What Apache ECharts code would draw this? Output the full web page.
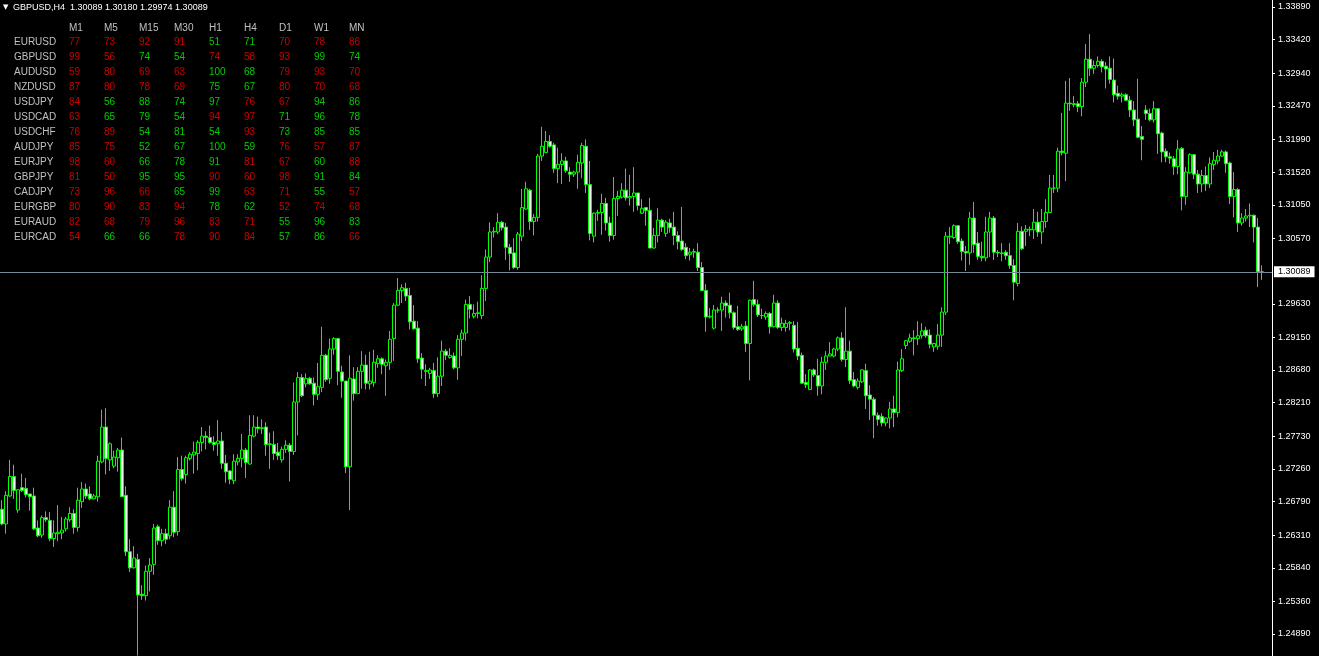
<!DOCTYPE html>
<html><head><meta charset="utf-8">
<script src="https://cdn.jsdelivr.net/npm/echarts@6/dist/echarts.min.js"></script>
<style>html,body{margin:0;padding:0;background:#000;overflow:hidden}#c{width:1319px;height:656px}</style>
</head><body><div id="c"></div>
<script>
const symbolName = 'GBPUSD';
const timeframe = 'H4';

const opens = [
1.2668,1.2647,1.2687,1.2715,1.2667,1.2699,1.2698,1.2690,1.2687,1.2641,
1.2631,1.2656,1.2652,1.2626,1.2633,1.2634,1.2640,1.2653,1.2662,1.2642,
1.2679,1.2697,1.2690,1.2683,1.2686,1.2736,1.2786,1.2739,1.2730,1.2742,
1.2753,1.2688,1.2607,1.2584,1.2596,1.2546,1.2544,1.2579,1.2589,1.2643,
1.2623,1.2633,1.2630,1.2671,1.2636,1.2725,1.2718,1.2741,1.2746,1.2748,
1.2764,1.2773,1.2771,1.2764,1.2762,1.2766,1.2734,1.2723,1.2709,1.2736,
1.2741,1.2753,1.2733,1.2773,1.2786,1.2784,1.2786,1.2761,1.2761,1.2750,
1.2739,1.2754,1.2760,1.2751,1.2822,1.2857,1.2848,1.2856,1.2849,1.2833,
1.2843,1.2889,1.2856,1.2898,1.2913,1.2865,1.2852,1.2729,1.2855,1.2834,
1.2866,1.2875,1.2848,1.2850,1.2877,1.2884,1.2874,1.2879,1.2913,1.2961,
1.2982,1.2985,1.2975,1.2938,1.2928,1.2885,1.2867,1.2863,1.2867,1.2834,
1.2859,1.2895,1.2886,1.2888,1.2871,1.2912,1.2921,1.2962,1.2945,1.2949,
1.2946,1.2985,1.3030,1.3066,1.3066,1.3080,1.3073,1.3044,1.3036,1.3015,
1.3060,1.3099,1.3126,1.3081,1.3087,1.3175,1.3180,1.3196,1.3191,1.3157,
1.3163,1.3168,1.3152,1.3149,1.3152,1.3165,1.3189,1.3134,1.3060,1.3093,
1.3094,1.3107,1.3079,1.3061,1.3114,1.3116,1.3126,1.3115,1.3117,1.3122,
1.3093,1.3101,1.3097,1.3043,1.3061,1.3083,1.3064,1.3079,1.3073,1.3061,
1.3053,1.3044,1.3034,1.3037,1.3037,1.3015,1.2982,1.2944,1.2928,1.2954,
1.2954,1.2964,1.2961,1.2950,1.2930,1.2927,1.2931,1.2906,1.2969,1.2962,
1.2946,1.2944,1.2949,1.2930,1.2964,1.2929,1.2929,1.2935,1.2932,1.2899,
1.2889,1.2850,1.2840,1.2868,1.2860,1.2845,1.2879,1.2888,1.2888,1.2898,
1.2914,1.2883,1.2895,1.2854,1.2843,1.2851,1.2867,1.2832,1.2826,1.2803,
1.2801,1.2792,1.2799,1.2812,1.2807,1.2867,1.2903,1.2909,1.2914,1.2913,
1.2917,1.2925,1.2918,1.2901,1.2902,1.2918,1.2951,1.3059,1.3058,1.3075,
1.3053,1.3038,1.3036,1.3086,1.3050,1.3031,1.3029,1.3066,1.3086,1.3037,
1.3036,1.3037,1.3032,1.3018,1.2992,1.3067,1.3067,1.3069,1.3069,1.3080,
1.3066,1.3081,1.3094,1.3129,1.3129,1.3182,1.3179,1.3251,1.3250,1.3250,
1.3246,1.3281,1.3314,1.3301,1.3305,1.3311,1.3304,1.3301,1.3284,1.3265,
1.3261,1.3263,1.3255,1.3241,1.3228,1.3203,1.3241,1.3236,1.3227,1.3243,
1.3208,1.3182,1.3174,1.3171,1.3160,1.3186,1.3117,1.3151,1.3177,1.3149,
1.3135,1.3147,1.3135,1.3163,1.3168,1.3175,1.3181,1.3165,1.3117,1.3127,
1.3079,1.3086,1.3089,1.3090,1.3073,1.30089
];
const highs = [
1.2681,1.2694,1.2739,1.2732,1.2697,1.2719,1.2713,1.2690,1.2699,1.2652,
1.2659,1.2665,1.2664,1.2652,1.2674,1.2657,1.2657,1.2671,1.2668,1.2699,
1.2707,1.2705,1.2701,1.2690,1.2745,1.2811,1.2813,1.2764,1.2752,1.2756,
1.2771,1.2701,1.2625,1.2615,1.2604,1.2559,1.2587,1.2598,1.2647,1.2646,
1.2640,1.2640,1.2681,1.2694,1.2743,1.2745,1.2745,1.2750,1.2765,1.2767,
1.2786,1.2780,1.2788,1.2773,1.2796,1.2779,1.2746,1.2724,1.2747,1.2747,
1.2776,1.2756,1.2803,1.2803,1.2801,1.2797,1.2793,1.2778,1.2780,1.2763,
1.2758,1.2767,1.2763,1.2850,1.2865,1.2862,1.2863,1.2858,1.2857,1.2878,
1.2930,1.2891,1.2913,1.2915,1.2914,1.2874,1.2852,1.2889,1.2872,1.2872,
1.2895,1.2890,1.2894,1.2897,1.2889,1.2886,1.2883,1.2924,1.2964,1.3000,
1.2991,1.2993,1.2986,1.2961,1.2938,1.2892,1.2876,1.2871,1.2878,1.2886,
1.2910,1.2898,1.2899,1.2893,1.2918,1.2926,1.2969,1.2974,1.2962,1.2966,
1.3004,1.3041,1.3080,1.3073,1.3093,1.3082,1.3079,1.3049,1.3057,1.3066,
1.3128,1.3138,1.3128,1.3092,1.3178,1.3217,1.3211,1.3205,1.3194,1.3187,
1.3179,1.3174,1.3159,1.3154,1.3177,1.3194,1.3199,1.3168,1.3094,1.3098,
1.3121,1.3115,1.3088,1.3145,1.3125,1.3136,1.3157,1.3148,1.3159,1.3122,
1.3113,1.3102,1.3115,1.3072,1.3100,1.3085,1.3083,1.3085,1.3095,1.3067,
1.3102,1.3050,1.3043,1.3042,1.3050,1.3023,1.2991,1.2957,1.2961,1.2958,
1.2973,1.2968,1.2979,1.2952,1.2960,1.2934,1.2938,1.2969,1.2996,1.2969,
1.2956,1.2952,1.2951,1.2976,1.2968,1.2943,1.2940,1.2938,1.2938,1.2937,
1.2893,1.2862,1.2869,1.2870,1.2884,1.2887,1.2895,1.2908,1.2900,1.2916,
1.2922,1.2958,1.2910,1.2865,1.2856,1.2869,1.2877,1.2846,1.2829,1.2807,
1.2806,1.2800,1.2822,1.2831,1.2880,1.2898,1.2911,1.2920,1.2925,1.2938,
1.2935,1.2930,1.2926,1.2907,1.2934,1.2958,1.3066,1.3073,1.3077,1.3076,
1.3057,1.3046,1.3095,1.3109,1.3066,1.3052,1.3088,1.3095,1.3089,1.3040,
1.3050,1.3040,1.3050,1.3027,1.3079,1.3074,1.3076,1.3074,1.3099,1.3095,
1.3099,1.3113,1.3148,1.3148,1.3187,1.3237,1.3283,1.3287,1.3261,1.3254,
1.3287,1.3336,1.3350,1.3312,1.3318,1.3314,1.3310,1.3318,1.3315,1.3276,
1.3266,1.3265,1.3261,1.3254,1.3286,1.3218,1.3248,1.3243,1.3254,1.3244,
1.3210,1.3186,1.3180,1.3175,1.3198,1.3188,1.3159,1.3179,1.3178,1.3155,
1.3155,1.3160,1.3173,1.3181,1.3184,1.3184,1.3183,1.3167,1.3152,1.3129,
1.3093,1.3099,1.3107,1.3091,1.3086,1.30180
];
const lows = [
1.2645,1.2633,1.2686,1.2683,1.2663,1.2693,1.2685,1.2666,1.2638,1.2628,
1.2627,1.2650,1.2622,1.2614,1.2622,1.2625,1.2636,1.2650,1.2633,1.2636,
1.2670,1.2683,1.2681,1.2683,1.2679,1.2734,1.2718,1.2723,1.2727,1.2722,
1.2686,1.2601,1.2578,1.2583,1.2458,1.2538,1.2537,1.2550,1.2574,1.2617,
1.2615,1.2618,1.2625,1.2628,1.2630,1.2709,1.2705,1.2738,1.2719,1.2724,
1.2751,1.2754,1.2762,1.2752,1.2745,1.2726,1.2706,1.2704,1.2704,1.2731,
1.2728,1.2713,1.2732,1.2771,1.2777,1.2776,1.2745,1.2726,1.2739,1.2739,
1.2735,1.2749,1.2708,1.2746,1.2774,1.2829,1.2843,1.2847,1.2817,1.2825,
1.2836,1.2851,1.2848,1.2890,1.2846,1.2828,1.2720,1.2667,1.2824,1.2834,
1.2841,1.2840,1.2840,1.2844,1.2871,1.2862,1.2831,1.2868,1.2881,1.2960,
1.2964,1.2967,1.2926,1.2926,1.2878,1.2855,1.2845,1.2855,1.2828,1.2829,
1.2845,1.2882,1.2884,1.2869,1.2854,1.2888,1.2910,1.2942,1.2942,1.2942,
1.2941,1.2967,1.3023,1.3058,1.3063,1.3068,1.3026,1.3011,1.3013,1.3012,
1.3053,1.3098,1.3069,1.3061,1.3081,1.3168,1.3180,1.3187,1.3151,1.3136,
1.3135,1.3151,1.3138,1.3145,1.3128,1.3143,1.3122,1.3054,1.3051,1.3082,
1.3062,1.3068,1.3052,1.3055,1.3089,1.3114,1.3111,1.3104,1.3095,1.3097,
1.3092,1.3075,1.3043,1.3042,1.3051,1.3066,1.3059,1.3065,1.3047,1.3041,
1.3039,1.3027,1.3025,1.3029,1.3010,1.2982,1.2923,1.2942,1.2926,1.2950,
1.2924,1.2943,1.2942,1.2926,1.2924,1.2924,1.2894,1.2853,1.2959,1.2944,
1.2941,1.2940,1.2920,1.2929,1.2927,1.2924,1.2923,1.2925,1.2893,1.2882,
1.2848,1.2842,1.2839,1.2858,1.2831,1.2833,1.2868,1.2888,1.2886,1.2895,
1.2880,1.2872,1.2848,1.2843,1.2840,1.2849,1.2812,1.2796,1.2770,1.2788,
1.2787,1.2787,1.2784,1.2786,1.2800,1.2865,1.2898,1.2907,1.2889,1.2904,
1.2913,1.2914,1.2899,1.2894,1.2897,1.2901,1.2947,1.3049,1.3056,1.3049,
1.3025,1.3010,1.3019,1.3036,1.3026,1.3024,1.3024,1.3030,1.3026,1.3030,
1.3024,1.3026,1.3013,1.2968,1.2988,1.3040,1.3046,1.3060,1.3056,1.3059,
1.3049,1.3072,1.3093,1.3122,1.3123,1.3176,1.3139,1.3240,1.3245,1.3238,
1.3232,1.3274,1.3290,1.3293,1.3302,1.3295,1.3272,1.3279,1.3252,1.3256,
1.3252,1.3254,1.3231,1.3218,1.3201,1.3169,1.3227,1.3225,1.3223,1.3178,
1.3166,1.3166,1.3164,1.3148,1.3149,1.3097,1.3105,1.3150,1.3142,1.3122,
1.3123,1.3125,1.3129,1.3155,1.3163,1.3174,1.3151,1.3106,1.3087,1.3066,
1.3075,1.3081,1.3073,1.3051,1.2987,1.29974
];
const closes = [
1.2647,1.2688,1.2715,1.2695,1.2696,1.2695,1.2689,1.2686,1.2640,1.2630,
1.2656,1.2653,1.2626,1.2634,1.2635,1.2638,1.2654,1.2662,1.2642,1.2681,
1.2697,1.2687,1.2683,1.2687,1.2737,1.2786,1.2741,1.2762,1.2743,1.2753,
1.2686,1.2607,1.2584,1.2598,1.2545,1.2544,1.2579,1.2588,1.2641,1.2623,
1.2633,1.2625,1.2671,1.2635,1.2725,1.2712,1.2742,1.2747,1.2750,1.2764,
1.2773,1.2771,1.2764,1.2761,1.2766,1.2734,1.2722,1.2711,1.2737,1.2741,
1.2753,1.2735,1.2774,1.2786,1.2784,1.2785,1.2761,1.2762,1.2748,1.2745,
1.2754,1.2760,1.2751,1.2822,1.2857,1.2831,1.2856,1.2848,1.2833,1.2844,
1.2889,1.2854,1.2898,1.2913,1.2866,1.2852,1.2729,1.2856,1.2834,1.2866,
1.2875,1.2849,1.2852,1.2879,1.2884,1.2876,1.2879,1.2912,1.2961,1.2982,
1.2986,1.2974,1.2937,1.2927,1.2884,1.2869,1.2866,1.2868,1.2834,1.2859,
1.2895,1.2889,1.2889,1.2871,1.2912,1.2921,1.2962,1.2955,1.2949,1.2950,
1.2985,1.3030,1.3066,1.3067,1.3080,1.3072,1.3044,1.3035,1.3015,1.3063,
1.3101,1.3128,1.3081,1.3087,1.3175,1.3189,1.3196,1.3189,1.3157,1.3163,
1.3168,1.3154,1.3149,1.3152,1.3166,1.3190,1.3134,1.3064,1.3093,1.3094,
1.3107,1.3079,1.3061,1.3114,1.3117,1.3126,1.3115,1.3117,1.3122,1.3104,
1.3100,1.3097,1.3043,1.3061,1.3083,1.3073,1.3080,1.3072,1.3061,1.3052,
1.3041,1.3032,1.3037,1.3038,1.3015,1.2982,1.2944,1.2945,1.2954,1.2954,
1.2964,1.2960,1.2950,1.2929,1.2926,1.2930,1.2906,1.2968,1.2962,1.2947,
1.2946,1.2949,1.2930,1.2964,1.2929,1.2935,1.2935,1.2936,1.2898,1.2888,
1.2849,1.2847,1.2868,1.2861,1.2845,1.2879,1.2888,1.2891,1.2898,1.2914,
1.2883,1.2895,1.2853,1.2845,1.2852,1.2868,1.2831,1.2826,1.2803,1.2797,
1.2792,1.2799,1.2812,1.2807,1.2868,1.2884,1.2910,1.2914,1.2913,1.2917,
1.2924,1.2917,1.2905,1.2906,1.2918,1.2951,1.3060,1.3060,1.3075,1.3052,
1.3038,1.3036,1.3086,1.3048,1.3031,1.3029,1.3066,1.3086,1.3037,1.3036,
1.3035,1.3032,1.3018,1.2994,1.3067,1.3042,1.3070,1.3070,1.3080,1.3066,
1.3081,1.3094,1.3129,1.3129,1.3182,1.3180,1.3251,1.3250,1.3249,1.3246,
1.3281,1.3314,1.3301,1.3305,1.3311,1.3303,1.3300,1.3285,1.3263,1.3261,
1.3263,1.3255,1.3241,1.3227,1.3202,1.3199,1.3236,1.3227,1.3243,1.3207,
1.3181,1.3174,1.3172,1.3160,1.3185,1.3117,1.3152,1.3177,1.3149,1.3135,
1.3147,1.3135,1.3164,1.3169,1.3175,1.3181,1.3164,1.3117,1.3127,1.3079,
1.3086,1.3089,1.3090,1.3073,1.30089,1.30089
];

const priceTickLabels = ['1.33890','1.33420','1.32940','1.32470','1.31990','1.31520','1.31050','1.30570',
  '1.29630','1.29150','1.28680','1.28210','1.27730','1.27260','1.26790','1.26310','1.25840','1.25360','1.24890'];

const timeframes = ['M1','M5','M15','M30','H1','H4','D1','W1','MN'];
const pairs = ['EURUSD','GBPUSD','AUDUSD','NZDUSD','USDJPY','USDCAD','USDCHF','AUDJPY','EURJPY','GBPJPY','CADJPY','EURGBP','EURAUD','EURCAD'];
const strength = [
  [77,73,92,91,51,71,70,78,86],
  [99,56,74,54,74,58,93,99,74],
  [59,80,69,63,100,68,79,93,70],
  [87,80,78,69,75,67,80,70,68],
  [84,56,88,74,97,76,67,94,86],
  [63,65,79,54,94,97,71,96,78],
  [76,89,54,81,54,93,73,85,85],
  [85,75,52,67,100,59,76,57,87],
  [98,60,66,78,91,81,67,60,88],
  [81,50,95,95,90,60,98,91,84],
  [73,96,66,65,99,63,71,55,57],
  [80,90,83,94,78,62,52,74,68],
  [82,68,79,96,83,71,55,96,83],
  [54,66,66,78,90,84,57,86,66]
];
const signals = [
  'RRRRGGRRR','RRGGRRRGG','RRRRGGRRR','RRRRGGRRR','RGGGGRRGG','RGGGRRGGG','RRGGGRGGG',
  'RRGGGGRRR','RRGGGRRGR','RRGGRRRGG','RRRGGRRGR','RRRRGGRRR','RRRRRRGGG','RGGRRRGGR'
];

const n = opens.length;
const emptySlots = 2;
const yMin = 1.24574, yMax = 1.3399;
const cats = [];
for (let i = 0; i < n + emptySlots; i++) cats.push(String(i));
const candles = opens.map((o, i) => [o, closes[i], lows[i], highs[i]]);
const last = n - 1;
const tickVals = priceTickLabels.map(parseFloat);
const cells = [];
strength.forEach((row, j) => row.forEach((v, i) => cells.push({
  value: [i, j, v],
  label: { color: signals[j][i] === 'G' ? '#00ff00' : '#ff0000' }
})));
const titleText = symbolName + ',' + timeframe + '  ' +
  [opens[last], highs[last], lows[last], closes[last]].map(v => v.toFixed(5)).join(' ');

const FONT = 'Liberation Sans';
const chart = echarts.init(document.getElementById('c'), null, { renderer: 'canvas' });
chart.setOption({
  backgroundColor: '#000',
  animation: false,
  title: {
    left: 3, top: 3, padding: 0,
    text: '{t|▼}{s|' + titleText + '}',
    textStyle: {
      fontSize: 9, color: '#fff', fontFamily: FONT, fontWeight: 'normal',
      rich: {
        t: { fontSize: 7, color: '#fff', fontFamily: 'DejaVu Sans', width: 10, align: 'left' },
        s: { fontSize: 9, color: '#fff', fontFamily: FONT }
      }
    }
  },
  grid: [
    { left: 0, right: 47, top: 0, bottom: 0, outerBoundsMode: 'none', containLabel: false },
    { left: 69, top: 42, width: 280, height: 195, outerBoundsMode: 'none', containLabel: false }
  ],
  xAxis: [
    { type: 'category', gridIndex: 0, data: cats, show: false, boundaryGap: true },
    { type: 'category', gridIndex: 1, data: timeframes, position: 'top', boundaryGap: false,
      axisLine: { show: false }, axisTick: { show: false }, splitLine: { show: false },
      axisLabel: { interval: 0, align: 'left', verticalAlign: 'middle', margin: 14,
        color: '#c0c0c0', fontSize: 10, fontFamily: FONT } }
  ],
  yAxis: [
    { type: 'value', gridIndex: 0, position: 'right', min: yMin, max: yMax,
      splitLine: { show: false },
      axisLine: { show: true, lineStyle: { color: '#ffffff', width: 1 } },
      axisTick: { show: true, length: 3, lineStyle: { color: '#ffffff' }, customValues: tickVals },
      axisLabel: { customValues: tickVals, formatter: v => v.toFixed(5), color: '#ffffff',
        fontSize: 9, margin: 6, fontFamily: FONT } },
    { type: 'category', gridIndex: 1, data: pairs, inverse: true, boundaryGap: false,
      axisLine: { show: false }, axisTick: { show: false }, splitLine: { show: false },
      axisLabel: { interval: 0, align: 'left', margin: 55, color: '#c0c0c0', fontSize: 10, fontFamily: FONT } }
  ],
  series: [
    {
      type: 'candlestick', xAxisIndex: 0, yAxisIndex: 0, data: candles, barWidth: 3,
      silent: true,
      itemStyle: { color: '#000000', color0: '#ffffff', borderColor: '#00ff00', borderColor0: '#00ff00',
        borderColorDoji: '#00ff00', borderWidth: 1 },
      emphasis: { disabled: true },
      markLine: {
        silent: true, symbol: ['none', 'none'], animation: false, precision: 5,
        lineStyle: { color: '#778899', width: 1, type: 'solid' },
        label: { show: true, position: 'end', distance: 2, formatter: p => Number(p.value).toFixed(5),
          color: '#000', backgroundColor: '#fff', fontSize: 9, fontFamily: FONT, padding: [1, 4, 1, 4] },
        emphasis: { disabled: true },
        data: [{ yAxis: closes[last] }]
      }
    },
    {
      type: 'scatter', xAxisIndex: 1, yAxisIndex: 1, symbolSize: 0, silent: true, data: cells,
      label: { show: true, position: 'right', distance: 0, formatter: p => String(p.value[2]),
        fontSize: 10, fontFamily: FONT },
      emphasis: { disabled: true }
    }
  ]
});
</script>
</body></html>
